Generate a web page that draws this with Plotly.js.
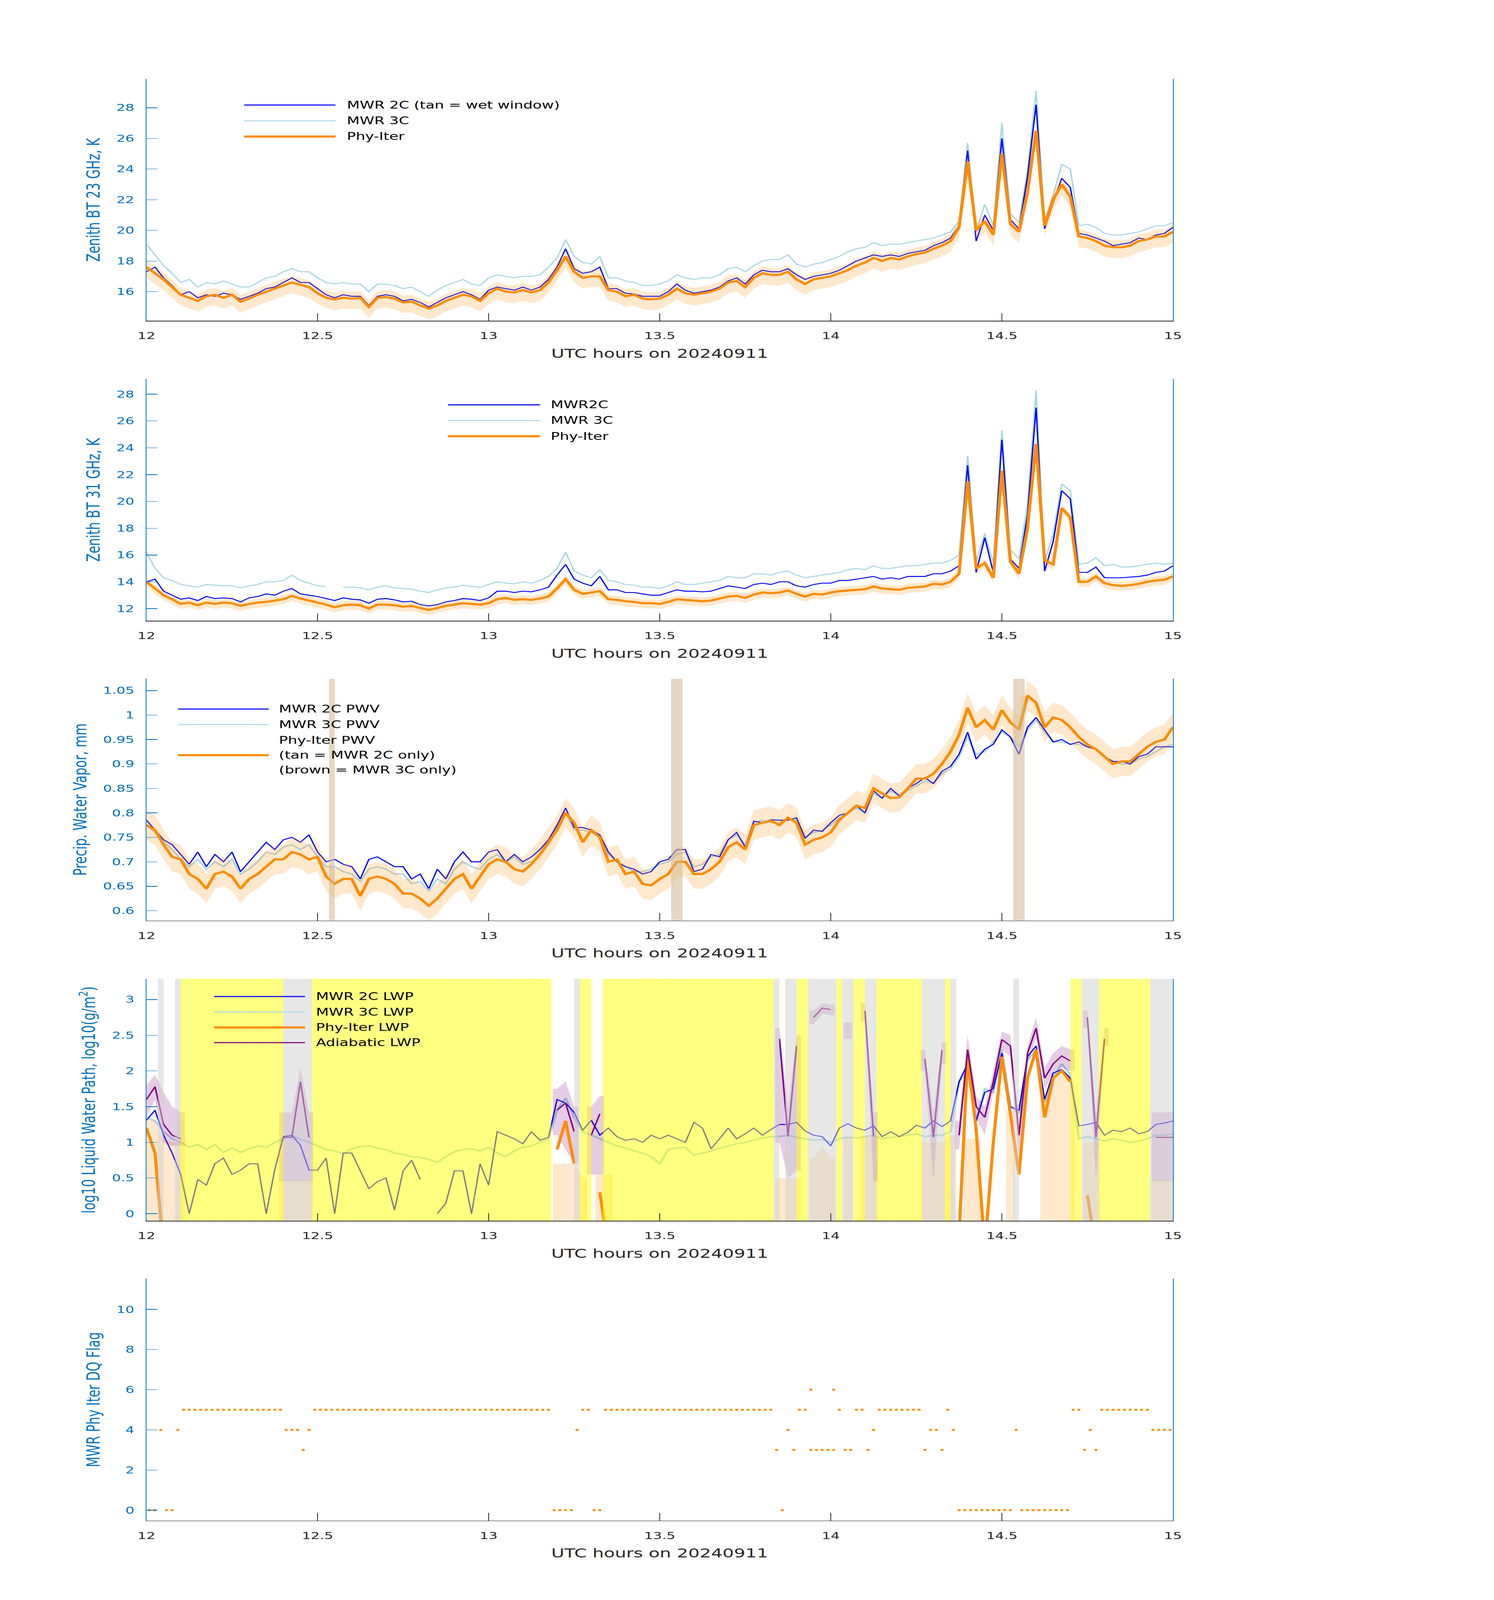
<!DOCTYPE html>
<html><head><meta charset="utf-8">
<script src="https://cdn.plot.ly/plotly-3.0.1.min.js"></script>
<style>html,body{margin:0;padding:0;background:#fff;overflow:hidden}#chart{transform-origin:0 0}</style>
</head><body><div id="chart" style="width:3825px;height:6000px"></div>
<script>
// ---------------- DATA ----------------
const gridStep = 0.025;                 // hours between samples (12.000 ... 15.000)
const hourTicks = [12, 12.5, 13, 13.5, 14, 14.5, 15];
const hourTickText = ['12', '12.5', '13', '13.5', '14', '14.5', '15'];

// Panel 1: zenith BT 23 GHz (K)
const bt23Mwr2C = [
17.3,17.6,16.9,16.4,15.8,16.0,15.6,15.8,15.7,15.9,
15.8,15.5,15.7,15.9,16.2,16.3,16.6,16.9,16.6,16.6,
16.2,15.8,15.6,15.8,15.7,15.7,15.1,15.7,15.8,15.7,
15.4,15.5,15.3,15.0,15.3,15.6,15.8,16.0,15.8,15.5,
16.1,16.3,16.2,16.1,16.3,16.1,16.3,16.8,17.6,18.8,
17.5,17.2,17.3,17.6,16.2,16.2,15.9,15.85,15.7,15.7,
15.7,16.0,16.5,16.1,15.9,16.0,16.1,16.3,16.7,16.9,
16.5,17.1,17.4,17.3,17.3,17.5,17.1,16.8,17.0,17.1,
17.2,17.4,17.7,18.0,18.2,18.4,18.3,18.4,18.3,18.5,
18.6,18.7,19.0,19.2,19.5,20.3,25.2,19.3,21.0,20.0,
26.0,20.7,20.1,23.5,28.2,20.1,21.8,23.4,22.8,19.8,
19.7,19.5,19.3,19.0,19.1,19.2,19.5,19.4,19.7,19.8,
20.2];
const bt23Mwr3C = [
19.1,18.4,17.7,17.2,16.6,16.8,16.3,16.6,16.5,16.7,
16.5,16.3,16.3,16.6,16.9,17.0,17.3,17.5,17.3,17.3,
16.9,16.6,16.5,16.6,16.5,16.5,16.0,16.5,16.5,16.4,
16.2,16.3,16.0,15.7,16.1,16.4,16.6,16.8,16.5,16.4,
16.9,17.1,17.0,16.9,17.0,17.0,17.1,17.6,18.2,19.4,
18.3,17.9,17.8,18.3,16.9,16.9,16.7,16.6,16.4,16.4,
16.5,16.7,17.1,16.9,16.8,16.9,16.9,17.1,17.5,17.6,
17.3,17.7,18.0,18.1,18.1,18.4,17.8,17.6,17.8,17.9,
18.1,18.3,18.6,18.8,18.9,19.2,19.0,19.1,19.1,19.2,
19.3,19.4,19.5,19.7,19.9,20.6,25.7,19.9,21.7,20.3,
27.0,21.1,20.5,23.9,29.1,20.6,22.3,24.3,24.0,20.3,
20.4,20.2,19.8,19.7,19.7,19.8,19.9,20.1,20.3,20.3,
20.5];
const bt23PhyIter = [
17.6,17.2,16.8,16.3,15.8,15.6,15.4,15.7,15.8,15.6,
15.8,15.35,15.55,15.8,16.0,16.2,16.4,16.6,16.45,16.3,
15.9,15.6,15.5,15.6,15.55,15.6,15.0,15.6,15.65,15.55,
15.3,15.35,15.1,14.9,15.1,15.4,15.6,15.8,15.7,15.4,
15.9,16.2,16.0,15.95,16.1,15.95,16.1,16.6,17.4,18.3,
17.3,16.9,17.0,17.0,16.1,16.0,15.7,15.8,15.55,15.5,
15.55,15.8,16.2,15.9,15.8,15.9,16.0,16.2,16.6,16.7,
16.3,16.9,17.2,17.1,17.1,17.3,16.8,16.5,16.8,16.9,
17.0,17.2,17.4,17.7,17.9,18.2,18.0,18.2,18.1,18.3,
18.45,18.55,18.8,19.0,19.3,20.2,24.5,20.0,20.6,19.7,
25.0,20.4,19.9,22.5,26.5,20.3,22.0,23.0,22.2,19.6,
19.5,19.3,19.0,18.9,18.9,19.0,19.3,19.4,19.6,19.6,
19.9];
const bt23UncUp = 0.45, bt23UncDown = 0.7;

// Panel 2: zenith BT 31 GHz (K)
const bt31Mwr2C = [
14.0,14.2,13.3,13.0,12.7,12.8,12.6,12.9,12.75,12.8,
12.75,12.5,12.8,12.9,13.1,13.0,13.3,13.5,13.1,13.0,
12.9,12.75,12.6,12.8,12.7,12.65,12.4,12.7,12.75,12.65,
12.5,12.55,12.3,12.2,12.3,12.5,12.6,12.75,12.7,12.6,
12.8,13.3,13.3,13.2,13.3,13.25,13.4,13.6,14.5,15.3,
14.2,13.9,13.7,14.4,13.4,13.4,13.2,13.2,13.1,13.0,
13.0,13.2,13.4,13.3,13.3,13.25,13.3,13.5,13.7,13.6,
13.5,13.8,13.9,13.8,14.0,14.0,13.7,13.6,13.8,13.9,
13.9,14.1,14.1,14.2,14.3,14.4,14.2,14.3,14.2,14.4,
14.4,14.4,14.6,14.6,14.8,15.2,22.7,14.7,17.3,14.7,
24.6,15.7,15.0,19.0,27.0,14.8,17.0,20.8,20.2,14.7,
14.7,15.1,14.3,14.3,14.3,14.35,14.4,14.5,14.7,14.8,
15.2];
const bt31Mwr3C = [
16.2,15.0,14.3,14.1,13.8,13.7,13.6,13.8,13.75,13.7,
13.7,13.55,13.7,13.8,14.0,14.0,14.1,14.5,14.1,13.9,
13.7,13.65,null,13.6,13.6,13.55,13.4,13.6,13.7,13.55,
13.5,13.45,13.3,13.2,13.4,13.55,13.6,13.75,13.65,13.6,
13.8,14.0,13.9,13.85,14.0,13.9,14.1,14.4,15.0,16.2,
14.8,14.5,14.3,14.9,14.1,14.0,13.8,13.75,13.6,13.6,
13.5,13.7,14.0,13.8,13.8,13.9,14.0,14.1,14.4,14.3,
14.3,14.6,14.6,14.5,14.7,14.8,14.5,14.3,14.4,14.5,
14.6,14.7,14.9,15.0,14.9,15.2,15.0,15.0,15.1,15.2,
15.2,15.3,15.4,15.4,15.6,16.0,23.4,15.5,17.6,15.4,
25.3,16.4,15.7,19.8,28.3,15.5,17.6,21.3,20.8,15.3,
15.4,15.8,15.2,15.3,15.1,15.1,15.2,15.3,15.4,15.3,
15.4];
const bt31PhyIter = [
14.0,13.5,13.0,12.7,12.35,12.45,12.25,12.45,12.35,12.45,
12.4,12.2,12.35,12.45,12.5,12.6,12.7,12.95,12.75,12.6,
12.45,12.3,12.1,12.25,12.3,12.25,12.0,12.3,12.3,12.25,
12.15,12.2,12.05,11.9,12.05,12.2,12.3,12.4,12.35,12.3,
12.4,12.7,12.8,12.65,12.7,12.65,12.75,12.9,13.5,14.2,
13.4,13.1,13.2,13.3,12.7,12.65,12.55,12.5,12.4,12.4,
12.35,12.5,12.7,12.65,12.6,12.55,12.6,12.75,12.9,12.95,
12.8,13.05,13.2,13.15,13.2,13.35,13.1,12.9,13.1,13.05,
13.2,13.3,13.35,13.4,13.45,13.65,13.5,13.45,13.4,13.55,
13.6,13.65,13.85,13.8,14.0,14.6,21.5,15.0,15.4,14.3,
22.3,15.5,14.6,18.0,24.3,15.6,15.3,19.5,18.8,14.0,
14.0,14.4,13.9,13.75,13.7,13.75,13.85,14.0,14.1,14.15,
14.4];
const bt31UncUp = 0.3, bt31UncDown = 0.38;

// Panel 3: precipitable water vapor (mm)
const pwvMwr2C = [
0.785,0.765,0.745,0.735,0.715,0.695,0.72,0.69,0.715,0.70,
0.72,0.68,0.70,0.72,0.74,0.725,0.745,0.75,0.74,0.755,
0.72,0.70,0.705,0.695,0.69,0.665,0.705,0.71,0.70,0.69,
0.69,0.665,0.675,0.645,0.685,0.665,0.70,0.72,0.70,0.70,
0.72,0.725,0.70,0.715,0.70,0.71,0.725,0.745,0.775,0.81,
0.77,0.77,0.765,0.755,0.72,0.70,0.69,0.685,0.675,0.68,
0.70,0.705,0.725,0.725,0.68,0.685,0.715,0.71,0.745,0.76,
0.73,0.783,0.78,0.786,0.785,0.785,0.79,0.748,0.765,0.762,
0.78,0.795,0.80,0.815,0.80,0.845,0.83,0.85,0.835,0.85,
0.86,0.872,0.86,0.885,0.895,0.92,0.965,0.91,0.93,0.94,
0.97,0.955,0.92,0.975,0.995,0.97,0.945,0.95,0.94,0.945,
0.935,0.93,0.915,0.905,0.905,0.90,0.915,0.92,0.935,0.935,
0.935];
const pwvMwr3C = [
0.775,0.76,0.74,0.725,0.705,0.69,0.705,0.685,0.70,0.69,
0.705,0.675,0.685,0.70,0.72,0.715,0.73,0.735,0.725,0.735,
0.71,0.69,0.69,0.68,0.675,0.66,0.685,0.69,0.685,0.675,
0.675,0.655,0.66,0.64,0.665,0.655,0.685,0.70,0.69,0.685,
0.705,0.715,0.70,0.71,0.695,0.70,0.715,0.735,0.77,0.80,
0.765,0.765,0.76,0.75,0.715,0.70,0.69,0.68,0.68,0.685,
0.695,0.70,0.715,0.72,0.69,0.695,0.71,0.715,0.745,0.755,
0.735,0.78,0.785,0.78,0.78,0.79,0.785,0.75,0.76,0.765,
0.775,0.79,0.80,0.81,0.80,0.84,0.83,0.845,0.835,0.845,
0.855,0.865,0.86,0.88,0.89,0.915,0.955,0.92,0.925,0.945,
0.965,0.955,0.935,0.97,0.99,0.965,0.945,0.945,0.94,0.94,
0.935,0.93,0.915,0.905,0.90,0.90,0.91,0.915,0.925,0.935,
0.94];
const pwvPhyIter = [
0.775,0.765,0.735,0.71,0.705,0.675,0.665,0.645,0.675,0.68,
0.67,0.645,0.665,0.675,0.69,0.705,0.705,0.72,0.715,0.705,
0.71,0.67,0.655,0.665,0.665,0.63,0.665,0.67,0.665,0.655,
0.635,0.635,0.625,0.61,0.625,0.645,0.665,0.675,0.645,0.67,
0.695,0.705,0.70,0.685,0.68,0.695,0.715,0.74,0.765,0.80,
0.78,0.74,0.765,0.75,0.70,0.705,0.675,0.68,0.655,0.652,
0.665,0.675,0.70,0.70,0.675,0.675,0.685,0.70,0.73,0.74,
0.725,0.775,0.78,0.784,0.775,0.79,0.78,0.735,0.745,0.75,
0.76,0.786,0.80,0.815,0.81,0.85,0.84,0.83,0.832,0.85,
0.87,0.87,0.88,0.90,0.925,0.96,1.015,0.975,0.99,0.97,
1.01,0.985,0.97,1.04,1.025,0.975,0.995,0.99,0.975,0.955,
0.94,0.93,0.915,0.90,0.905,0.905,0.92,0.935,0.945,0.95,
0.975];
const pwvUnc = 0.03;
const tanMinutes = [32, 92, 93, 152, 153];   // minutes after 12 UTC flagged "MWR 2C only"

// Panel 4: log10 liquid water path
const lwpMwr2C = [
1.31,1.45,1.1,0.85,0.55,0,0.48,0.4,0.70,0.78,
0.55,0.61,0.70,0.7,0,0.62,1.08,1.1,0.96,0.61,
0.61,0.78,0,0.85,0.85,0.6,0.35,0.45,0.5,0.05,
0.6,0.75,0.48,null,0,0.15,0.6,0.6,0,0.7,
0.4,1.15,1.1,1.05,0.98,1.15,1.03,1.07,1.6,1.55,
1.42,1.17,1.31,1.1,1.2,1.08,1.03,1.05,1.0,1.1,
1.05,1.1,1.05,1.0,1.28,1.2,0.91,1.05,1.2,1.05,
1.12,1.2,1.1,1.18,1.25,1.25,1.28,1.16,1.1,1.08,
0.95,1.2,1.26,1.2,1.17,1.23,1.08,1.15,1.08,1.14,
1.24,1.2,1.3,1.22,1.3,1.85,2.1,1.3,1.7,1.75,
2.25,1.5,1.45,2.2,2.35,1.6,1.97,2.02,1.9,1.23,
1.25,1.28,1.1,1.17,1.15,1.2,1.12,1.15,1.25,1.27,
1.3];
const lwpMwr3C = [
1.35,1.3,1.15,1.05,1.0,0.93,0.97,0.9,0.97,0.86,
0.92,0.86,0.91,0.95,0.93,1.0,1.05,1.1,1.04,1.0,
0.95,0.9,0.88,0.84,0.91,0.94,0.95,0.92,0.9,0.85,
0.83,0.8,0.79,0.76,0.72,0.8,0.87,0.9,0.91,0.88,
0.93,0.85,0.8,0.88,0.93,0.95,1.0,1.05,1.45,1.62,
1.35,1.15,1.1,1.05,1.0,0.95,0.92,0.88,0.85,0.8,
0.7,0.9,0.92,0.93,0.82,0.85,0.88,0.92,0.95,0.98,
1.0,1.03,1.06,1.08,1.08,1.1,1.07,1.05,1.03,1.04,
1.0,1.05,1.07,1.06,1.08,1.1,1.05,1.07,1.08,1.1,
1.12,1.08,1.1,1.1,1.15,1.85,2.0,1.3,1.75,1.7,
2.3,1.5,1.4,2.15,2.3,1.55,1.9,2.1,1.95,1.05,
1.08,1.05,1.02,1.05,1.03,1.0,1.02,1.05,1.1,1.1,
1.12];
const lwpPhyIter = [
1.2,0.85,-0.5,null,null,null,null,null,null,null,
null,null,null,null,null,null,null,null,null,null,
null,null,null,null,null,null,null,null,null,null,
null,null,null,null,null,null,null,null,null,null,
null,null,null,null,null,null,null,null,0.9,1.3,
0.7,null,null,0.3,-0.5,null,null,null,null,null,
null,null,null,null,null,null,null,null,null,null,
null,null,null,null,null,null,null,null,null,null,
null,null,null,null,null,null,null,null,null,null,
null,null,null,null,null,-0.3,2.2,1.17,-0.5,1.0,
2.2,1.4,0.55,1.9,2.3,1.35,1.9,2.0,1.85,null,
0.26,-0.5,null,null,null,null,null,null,null,null,
null];
const lwpPhyBandTop = [
1.35,1.3,1.05,1.0,1.0,null,null,null,null,null,
null,null,null,null,null,null,0.47,0.47,0.47,0.47,
null,null,null,null,null,null,null,null,null,null,
null,null,null,null,null,null,null,null,null,null,
null,null,null,null,null,null,null,null,0.7,0.7,
0.7,0.5,null,0.55,0.55,null,null,null,null,null,
null,null,null,null,null,null,null,null,null,null,
null,null,null,null,0.5,0.5,0.5,null,0.78,0.94,
0.78,null,1.08,null,1.08,1.08,null,null,null,null,
null,1.0,1.0,1.0,1.1,null,1.05,1.05,null,null,
null,1.45,null,null,null,1.6,1.9,1.95,1.85,null,
1.0,1.0,null,null,null,null,null,null,0.47,0.47,
0.47];
const lwpPhyBandFloor = -1;
const lwpAdiabatic = [
1.6,1.78,1.25,1.1,1.05,null,null,null,null,null,
null,null,null,null,null,null,1.07,1.07,1.85,1.07,
null,null,null,null,null,null,null,null,null,null,
null,null,null,null,null,null,null,null,null,null,
null,null,null,null,null,null,null,null,1.45,1.55,
1.15,null,1.1,1.4,null,null,null,null,null,null,
null,null,null,null,null,null,null,null,null,null,
null,null,null,null,2.45,1.08,2.35,null,2.75,2.88,
2.86,null,2.55,null,2.84,1.08,null,null,null,null,
null,2.17,1.07,2.29,null,1.1,2.3,1.5,1.35,1.85,
2.44,2.35,1.1,2.25,2.6,1.9,2.1,2.21,2.14,null,
2.75,1.07,2.45,null,null,null,null,null,1.07,1.07,
1.07];
const lwpAdiabaticHi = [
1.8,1.95,1.7,1.5,1.42,null,null,null,null,null,
null,null,null,null,null,null,1.42,1.42,2.05,1.42,
null,null,null,null,null,null,null,null,null,null,
null,null,null,null,null,null,null,null,null,null,
null,null,null,null,null,null,null,null,1.75,1.85,
1.5,null,1.5,1.65,null,null,null,null,null,null,
null,null,null,null,null,null,null,null,null,null,
null,null,null,null,2.6,1.5,2.5,null,2.85,2.95,
2.93,null,2.68,null,2.95,1.42,null,null,null,null,
null,2.3,1.42,2.4,null,1.3,2.5,1.65,1.5,2.0,
2.55,2.5,1.3,2.35,2.75,2.05,2.25,2.35,2.3,null,
2.85,1.42,2.6,null,null,null,null,null,1.42,1.42,
1.42];
const lwpAdiabaticLo = [
1.35,1.6,1.0,0.95,0.95,null,null,null,null,null,
null,null,null,null,null,null,0.46,0.46,0.46,0.46,
null,null,null,null,null,null,null,null,null,null,
null,null,null,null,null,null,null,null,null,null,
null,null,null,null,null,null,null,null,1.1,0.9,
0.7,null,0.55,0.55,null,null,null,null,null,null,
null,null,null,null,null,null,null,null,null,null,
null,null,null,null,1.0,0.5,0.6,null,2.65,2.8,
2.78,null,2.45,null,2.7,0.46,null,null,null,null,
null,2.0,0.46,2.1,null,0.9,2.2,1.35,1.1,1.7,
2.3,2.2,0.8,2.1,2.45,1.75,1.95,2.05,2.0,null,
2.6,0.46,2.35,null,null,null,null,null,0.46,0.46,
0.46];

// Panel 5: Phy-Iter data-quality flag, one value per minute after 12 UTC
const dqFlag = [
0,0,4,0,0,4,5,5,5,5,5,5,5,5,5,5,5,5,5,5,5,5,5,5,4,4,4,3,4,
5,5,5,5,5,5,5,5,5,5,5,5,5,5,5,5,5,5,5,5,5,5,5,5,5,5,5,5,5,5,5,5,5,5,5,5,5,5,5,5,5,5,
0,0,0,0,4,5,5,0,0,
5,5,5,5,5,5,5,5,5,5,5,5,5,5,5,5,5,5,5,5,5,5,5,5,5,5,5,5,5,5,
3,0,4,3,5,5,3,3,3,3,3,5,3,3,5,5,3,4,
5,5,5,5,5,5,5,5,
3,4,4,3,5,4,
0,0,0,0,0,0,0,0,0,0,
4,
0,0,0,0,0,0,0,0,0,
5,5,3,4,3,
5,5,5,5,5,5,5,5,5,
4,4,4,4,5];
const dqFlagExtraMinute = [116, 120];
const dqFlagExtraValue = [6, 6];

// ---------------- BUILD ----------------
const hours = bt23Mwr2C.map((_, i) => 12 + i * gridStep);
const minuteToHour = m => 12 + (m + 0.5) / 60;
const flagHours = dqFlag.map((_, k) => minuteToHour(k));

const C = {
  blue: '#0000FF', light: '#ADD8E6', orange: '#FF8C00', purple: '#800080',
  peach: 'rgba(255,140,0,0.2)', lilac: 'rgba(128,0,128,0.2)',
  axisBlue: '#0072BD', dark: '#262626'
};
const FONT = 'DejaVu Sans';

function bandPolygons(x, lo, hi, ext) {
  const xs = [], ys = [];
  let i = 0;
  const n = x.length;
  while (i < n) {
    if (hi[i] == null || lo[i] == null) { i++; continue; }
    let j = i;
    while (j + 1 < n && hi[j + 1] != null && lo[j + 1] != null) j++;
    xs.push(x[i] - ext); ys.push(hi[i]);
    for (let k = i; k <= j; k++) { xs.push(x[k]); ys.push(hi[k]); }
    xs.push(x[j] + ext); ys.push(hi[j]);
    xs.push(x[j] + ext); ys.push(lo[j]);
    for (let k = j; k >= i; k--) { xs.push(x[k]); ys.push(lo[k]); }
    xs.push(x[i] - ext); ys.push(lo[i]);
    xs.push(null); ys.push(null);
    i = j + 1;
  }
  return { x: xs, y: ys };
}
function line(x, y, color, width, xa, ya) {
  return { type: 'scatter', mode: 'lines', x, y, xaxis: xa, yaxis: ya, showlegend: false,
           line: { color, width }, hoverinfo: 'skip' };
}
function band(poly, color, xa, ya) {
  return { type: 'scatter', mode: 'lines', x: poly.x, y: poly.y, fill: 'toself', fillcolor: color,
           line: { width: 0, color: 'rgba(0,0,0,0)' }, xaxis: xa, yaxis: ya, showlegend: false, hoverinfo: 'skip' };
}

const traces = [];
// Panel 1
traces.push(line(hours, bt23Mwr3C, C.light, 4, 'x', 'y'));
traces.push(line(hours, bt23Mwr2C, C.blue, 3.5, 'x', 'y'));
traces.push(band(bandPolygons(hours, bt23PhyIter.map(v => v - bt23UncDown), bt23PhyIter.map(v => v + bt23UncUp), 0), C.peach, 'x', 'y'));
traces.push(line(hours, bt23PhyIter, C.orange, 8, 'x', 'y'));
// Panel 2
traces.push(line(hours, bt31Mwr3C, C.light, 4, 'x2', 'y2'));
traces.push(line(hours, bt31Mwr2C, C.blue, 3.5, 'x2', 'y2'));
traces.push(band(bandPolygons(hours, bt31PhyIter.map(v => v - bt31UncDown), bt31PhyIter.map(v => v + bt31UncUp), 0), C.peach, 'x2', 'y2'));
traces.push(line(hours, bt31PhyIter, C.orange, 8, 'x2', 'y2'));
// Panel 3
traces.push(line(hours, pwvMwr3C, C.light, 5, 'x3', 'y3'));
traces.push(line(hours, pwvMwr2C, C.blue, 3.5, 'x3', 'y3'));
traces.push(band(bandPolygons(hours, pwvPhyIter.map(v => v - pwvUnc), pwvPhyIter.map(v => v + pwvUnc), 0), C.peach, 'x3', 'y3'));
traces.push(line(hours, pwvPhyIter, C.orange, 8, 'x3', 'y3'));
traces.push({ type: 'bar', x: tanMinutes.map(minuteToHour), y: tanMinutes.map(() => 1), base: 0,
  width: 1 / 60, marker: { color: 'rgba(210,180,140,0.55)', line: { width: 0 } },
  xaxis: 'x3', yaxis: 'y6', showlegend: false, hoverinfo: 'skip' });
// Panel 4
traces.push(line(hours, lwpMwr3C, C.light, 6, 'x4', 'y4'));
traces.push(line(hours, lwpMwr2C, C.blue, 3.5, 'x4', 'y4'));
traces.push(band(bandPolygons(hours, lwpPhyBandTop.map(v => v == null ? null : lwpPhyBandFloor), lwpPhyBandTop, gridStep / 2), C.peach, 'x4', 'y4'));
traces.push(band(bandPolygons(hours, lwpAdiabaticLo, lwpAdiabaticHi, gridStep / 2), C.lilac, 'x4', 'y4'));
traces.push(line(hours, lwpPhyIter, C.orange, 8, 'x4', 'y4'));
traces.push(line(hours, lwpAdiabatic, C.purple, 4, 'x4', 'y4'));
const flagPatchColor = f => f === 5 ? 'rgba(255,255,0,0.5)' : (f === 0 ? 'rgba(0,0,0,0)' : 'rgba(208,208,208,0.5)');
traces.push({ type: 'bar', x: flagHours, y: dqFlag.map(() => 1), base: 0, width: 1 / 60,
  marker: { color: dqFlag.map(flagPatchColor), line: { width: 0 } },
  xaxis: 'x4', yaxis: 'y7', showlegend: false, hoverinfo: 'skip' });
// Panel 5
traces.push({ type: 'scatter', mode: 'markers',
  x: flagHours.concat(dqFlagExtraMinute.map(minuteToHour)), y: dqFlag.concat(dqFlagExtraValue),
  marker: { color: C.orange, size: 8, line: { width: 0 } }, xaxis: 'x5', yaxis: 'y5', showlegend: false, hoverinfo: 'skip' });

// ---------------- LAYOUT ----------------
const W = 3825, H = 6000;
const xDom = [375 / W, 3003 / W];
const panelTops = [296, 1421, 2545, 3671, 4795], panelH = 907;
const yDom = t => [1 - (t + panelH) / H, 1 - t / H];

function xAxis(anchor) {
  return { anchor, domain: xDom, range: [12, 15], tickvals: hourTicks, ticktext: hourTickText,
    ticks: 'inside', ticklen: 28, tickwidth: 2, tickcolor: C.dark, showline: true, linecolor: C.dark, linewidth: 2,
    showgrid: false, zeroline: false, ticklabelstandoff: 24,
    tickfont: { family: FONT, size: 36, color: C.dark },
    title: { text: 'UTC hours on 20240911', font: { family: FONT, size: 46, color: C.dark }, standoff: 30 } };
}
function yAxis(anchor, top, range, tickvals, ticktext, title) {
  return { anchor, domain: yDom(top), range, tickvals, ticktext,
    ticks: 'inside', ticklen: 28, tickwidth: 2, tickcolor: C.axisBlue, showline: true, mirror: true,
    linecolor: C.axisBlue, linewidth: 2, showgrid: false, zeroline: false, ticklabelstandoff: 22,
    tickfont: { family: FONT, size: 36, color: C.axisBlue },
    title: { text: title, font: { family: FONT, size: 46, color: C.axisBlue }, standoff: 28 } };
}
const bt23Ticks = [16, 18, 20, 22, 24, 26, 28];
const bt31Ticks = [12, 14, 16, 18, 20, 22, 24, 26, 28];
const pwvTicks = [0.6, 0.65, 0.7, 0.75, 0.8, 0.85, 0.9, 0.95, 1, 1.05];
const pwvTickText = ['0.6', '0.65', '0.7', '0.75', '0.8', '0.85', '0.9', '0.95', '1', '1.05'];
const lwpTicks = [0, 0.5, 1, 1.5, 2, 2.5, 3];
const lwpTickText = ['0', '0.5', '1', '1.5', '2', '2.5', '3'];
const flagTicks = [0, 2, 4, 6, 8, 10];

// legend blocks (drawn as shapes + text)
const legends = [
  { x0: 625, x1: 859, tx: 886, rows: [
    [394, 'MWR 2C (tan = wet window)', C.blue, 4], [453, 'MWR 3C', C.light, 4], [512, 'Phy-Iter', C.orange, 8]] },
  { x0: 1147, x1: 1383, tx: 1408, rows: [
    [1518, 'MWR2C', C.blue, 4], [1577, 'MWR 3C', C.light, 4], [1636, 'Phy-Iter', C.orange, 8]] },
  { x0: 456, x1: 688, tx: 712, rows: [
    [2659, 'MWR 2C PWV', C.blue, 4], [2717, 'MWR 3C PWV', C.light, 4], [2776, 'Phy-Iter PWV', null, 0],
    [2832, '(tan = MWR 2C only)', C.orange, 8], [2887, '(brown = MWR 3C only)', null, 0]] },
  { x0: 548, x1: 781, tx: 807, rows: [
    [3737, 'MWR 2C LWP', C.blue, 4], [3795, 'MWR 3C LWP', C.light, 4], [3853, 'Phy-Iter LWP', C.orange, 8],
    [3910, 'Adiabatic LWP', C.purple, 4]] }
];
const shapes = [], annotations = [];
legends.forEach(L => L.rows.forEach(([py, text, color, w]) => {
  const yp = 1 - py / H;
  if (color) shapes.push({ type: 'line', xref: 'paper', yref: 'paper', x0: L.x0 / W, x1: L.x1 / W, y0: yp, y1: yp,
    line: { color, width: w }, layer: 'above' });
  annotations.push({ xref: 'paper', yref: 'paper', x: L.tx / W, y: yp, xanchor: 'left', yanchor: 'middle',
    text, showarrow: false, font: { family: FONT, size: 38, color: '#000' } });
}));

const layout = {
  width: W, height: H, margin: { l: 0, r: 0, t: 0, b: 0 }, paper_bgcolor: '#fff', plot_bgcolor: '#fff',
  showlegend: false, barmode: 'overlay', font: { family: FONT },
  xaxis: xAxis('y'), xaxis2: xAxis('y2'), xaxis3: xAxis('y3'), xaxis4: xAxis('y4'), xaxis5: xAxis('y5'),
  yaxis: yAxis('x', panelTops[0], [14.1, 29.88], bt23Ticks, bt23Ticks.map(String), 'Zenith BT 23 GHz, K'),
  yaxis2: yAxis('x2', panelTops[1], [11.09, 29.14], bt31Ticks, bt31Ticks.map(String), 'Zenith BT 31 GHz, K'),
  yaxis3: yAxis('x3', panelTops[2], [0.58, 1.0743], pwvTicks, pwvTickText, 'Precip. Water Vapor, mm'),
  yaxis4: yAxis('x4', panelTops[3], [-0.099, 3.289], lwpTicks, lwpTickText, 'log10 Liquid Water Path, log10(g/m<sup>2</sup>)'),
  yaxis5: yAxis('x5', panelTops[4], [-0.516, 11.527], flagTicks, flagTicks.map(String), 'MWR Phy Iter DQ Flag'),
  yaxis6: { overlaying: 'y3', anchor: 'x3', range: [0, 1], visible: false, fixedrange: true },
  yaxis7: { overlaying: 'y4', anchor: 'x4', range: [0, 1], visible: false, fixedrange: true },
  shapes, annotations
};

// fit the 3825x6000 figure into the actual viewport if the window is smaller
const chartDiv = document.getElementById('chart');
const vw = window.innerWidth || W, vh = window.innerHeight || H;
const fx = Math.min(1, vw / W), fy = Math.min(1, vh / H);
if (fx < 1 || fy < 1) chartDiv.style.transform = 'scale(' + fx + ',' + fy + ')';

Plotly.newPlot(chartDiv, traces, layout, { displayModeBar: false, staticPlot: true });
</script></body></html>
